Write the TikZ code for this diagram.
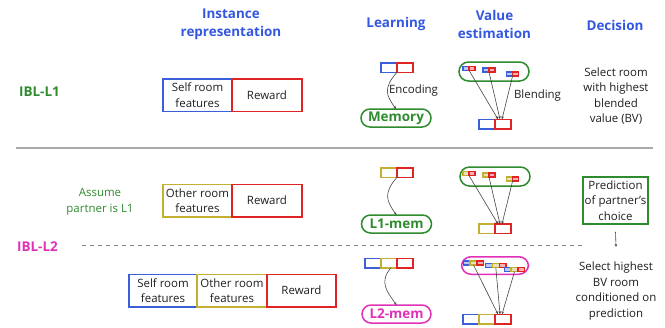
\documentclass[tikz,border=0pt]{standalone}
\usepackage{fontspec}
\setmainfont{Open Sans}
\usetikzlibrary{arrows.meta}
\definecolor{hblue}{HTML}{3457E0}
\definecolor{bblue}{HTML}{3A5FD8}
\definecolor{bred}{HTML}{E02424}
\definecolor{byel}{HTML}{C4B030}
\definecolor{bgreen}{HTML}{2E8B2E}
\definecolor{bmag}{HTML}{E030B8}
\definecolor{txt}{HTML}{1E1E1E}
\definecolor{sepgray}{HTML}{AAAAAA}
\definecolor{dashgray}{HTML}{888888}
\definecolor{arrgray}{HTML}{444444}
\tikzset{
  hdr/.style={font=\fontsize{13.5}{18}\selectfont\bfseries, text=hblue, align=center, inner sep=0},
  lbl/.style={font=\fontsize{13.5}{18}\selectfont\bfseries, align=center, inner sep=0},
  body/.style={font=\fontsize{11.5}{15.6}\selectfont, text=txt, align=center, inner sep=0},
  feat/.style={body, draw, line width=1.5bp, minimum height=32.5bp, outer sep=0},
  sb/.style={draw, line width=1.5bp, minimum width=16bp, minimum height=9.5bp, inner sep=0, outer sep=0},
  tb/.style={draw=#1, fill=#1!35, line width=1.3bp, minimum width=6bp, minimum height=4bp, inner sep=0, outer sep=0},
  tbw/.style={tb=#1, minimum width=6.8bp},
  mem/.style={draw, line width=1.5bp, rounded corners=9bp, minimum width=70bp, minimum height=18bp, inner sep=0, outer sep=0, font=\fontsize{13.5}{16}\selectfont\bfseries},
  oval/.style={draw, line width=1.5bp, rounded corners=9.5bp, inner sep=0, outer sep=0},
  predbox/.style={body, draw=bgreen, line width=1.5bp, minimum width=65bp, minimum height=47bp},
  enc/.style={draw=arrgray, line width=0.6bp, -{Stealth[length=3bp,width=2.6bp]}},
  arr/.style={draw=arrgray, line width=0.6bp, -{Stealth[length=3bp,width=2.6bp]}},
  sep/.style={draw=sepgray, line width=1.2bp},
  dsep/.style={draw=dashgray, line width=1bp, dash pattern=on 4bp off 4bp},
}
\begin{document}
\begin{tikzpicture}[x=1bp,y=-1bp]
\useasboundingbox (0,0) rectangle (665,327);

% headers
\node[hdr] (h1) at (231,24) {Instance\\representation};
\node[hdr] (h2) at (396,24) {Learning};
\node[hdr] (h3) at (494.5,24) {Value\\estimation};
\node[hdr] (h4) at (615,25) {Decision};

% row labels
\node[lbl, text=bgreen] (l1) at (39.5,92) {IBL-L1};
\node[lbl, text=bmag] (l2) at (37.5,246.5) {IBL-L2};
\node[body, text=bgreen] (assume) at (100,202) {Assume\\partner is L1};

% separators
\coordinate (s1) at (16,148);
\coordinate (s2) at (653,148);
\draw[sep] (s1) -- (s2);
\coordinate (d1) at (82,245.5);
\coordinate (d2) at (582,245.5);
\draw[dsep] (d1) -- (d2);

% instance representation
\node[feat, draw=bblue, minimum width=69bp] (f1s) at (197.5,95) {Self room\\features};
\node[feat, draw=bred, minimum width=70bp, anchor=west] (f1r) at (f1s.east) {Reward};
\node[feat, draw=byel, minimum width=69bp] (f2o) at (197.5,200.5) {Other room\\features};
\node[feat, draw=bred, minimum width=70bp, anchor=west] (f2r) at (f2o.east) {Reward};
\node[feat, draw=bblue, minimum width=68bp] (f3s) at (163,290.5) {Self room\\features};
\node[feat, draw=byel, minimum width=70bp, anchor=west] (f3o) at (f3s.east) {Other room\\features};
\node[feat, draw=bred, minimum width=69bp, anchor=west] (f3r) at (f3o.east) {Reward};

% learning
\node[sb, draw=bblue] (e1b) at (389,67.5) {};
\node[sb, draw=bred, anchor=west] (e1r) at (e1b.east) {};
\node[mem, draw=bgreen, text=bgreen] (m1) at (396,118) {Memory};
\draw[enc] (e1b.south east) .. controls +(-14,16) and +(-10,-14) .. (m1.north);
\node[body] (encl) at (413.5,90.5) {Encoding};

\node[sb, draw=byel] (e2y) at (389,172.5) {};
\node[sb, draw=bred, anchor=west] (e2r) at (e2y.east) {};
\node[mem, draw=bgreen, text=bgreen] (m2) at (396.5,224) {L1-mem};
\draw[enc] (e2y.south east) .. controls +(-14,16) and +(-10,-14) .. (m2.north);

\node[sb, draw=bblue] (e3b) at (373,263) {};
\node[sb, draw=byel, anchor=west] (e3y) at (e3b.east) {};
\node[sb, draw=bred, anchor=west] (e3r) at (e3y.east) {};
\node[mem, draw=bmag, text=bmag, minimum width=69bp] (m3) at (396.5,314) {L2-mem};
\draw[enc] ([xshift=2bp]e3y.south) .. controls +(-12,14) and +(-10,-14) .. (m3.north);

% value estimation L1
\node[oval, draw=bgreen, minimum width=70bp, minimum height=19bp] (o1) at (494,71.5) {};
\node[tb=bblue] (p1ab) at (466,68.3) {};
\node[tb=bred, anchor=west] (p1ar) at (p1ab.east) {};
\node[tb=bblue] (p1bb) at (486,70) {};
\node[tb=bred, anchor=west] (p1br) at (p1bb.east) {};
\node[tb=bblue] (p1cb) at (509.6,74) {};
\node[tb=bred, anchor=west] (p1cr) at (p1cb.east) {};
\node[sb, draw=bblue] (v1b) at (487,124) {};
\node[sb, draw=bred, anchor=west] (v1r) at (v1b.east) {};
\draw[arr] (p1ar.south west) -- ([xshift=-5bp]v1r.north);
\draw[arr] (p1br.south west) -- ([xshift=-3bp]v1r.north);
\draw[arr] (p1cr.south west) -- ([xshift=-1bp]v1r.north);
\node[body] (blend) at (537.5,96) {Blending};

% value estimation L1-mem
\node[oval, draw=bgreen, minimum width=70bp, minimum height=19bp] (o2) at (495,176.5) {};
\node[tb=byel] (p2ay) at (466,173.5) {};
\node[tb=bred, anchor=west] (p2ar) at (p2ay.east) {};
\node[tb=byel] (p2by) at (486,175) {};
\node[tb=bred, anchor=west] (p2br) at (p2by.east) {};
\node[tb=byel] (p2cy) at (509.6,179) {};
\node[tb=bred, anchor=west] (p2cr) at (p2cy.east) {};
\node[sb, draw=byel] (v2y) at (487,228.8) {};
\node[sb, draw=bred, anchor=west] (v2r) at (v2y.east) {};
\draw[arr] (p2ar.south west) -- ([xshift=-5bp]v2r.north);
\draw[arr] (p2br.south west) -- ([xshift=-3bp]v2r.north);
\draw[arr] (p2cr.south west) -- ([xshift=-1bp]v2r.north);

% value estimation L2-mem
\node[oval, draw=bmag, minimum width=67bp, minimum height=17.5bp] (o3) at (495,265.5) {};
\node[tbw=bblue] (p3ab) at (466.7,263) {};
\node[tbw=byel, anchor=west] (p3ay) at (p3ab.east) {};
\node[tbw=bred, anchor=west] (p3ar) at (p3ay.east) {};
\node[tbw=bblue] (p3bb) at (489,265.3) {};
\node[tbw=byel, anchor=west] (p3by) at (p3bb.east) {};
\node[tbw=bred, anchor=west] (p3br) at (p3by.east) {};
\node[tbw=bblue] (p3cb) at (507.7,269.7) {};
\node[tbw=byel, anchor=west] (p3cy) at (p3cb.east) {};
\node[tbw=bred, anchor=west] (p3cr) at (p3cy.east) {};
\node[sb, draw=bblue] (v3b) at (471,319) {};
\node[sb, draw=byel, anchor=west] (v3y) at (v3b.east) {};
\node[sb, draw=bred, anchor=west] (v3r) at (v3y.east) {};
\draw[arr] (p3ay.south) -- ([xshift=-5bp]v3r.north);
\draw[arr] (p3by.south) -- ([xshift=-3bp]v3r.north);
\draw[arr] (p3cy.south) -- ([xshift=-1bp]v3r.north);

% decision
\node[body] (dec1) at (616,96) {Select room\\with highest\\blended\\value (BV)};
\node[predbox] (pred) at (615.5,200.5) {Prediction\\of partner's\\choice};
\node[body] (dec2) at (616,291) {Select highest\\BV room\\conditioned on\\prediction};
\coordinate (pa) at (616,247);
\draw[arr] ([yshift=-7bp]pred.south) -- (pa);
\end{tikzpicture}
\end{document}
